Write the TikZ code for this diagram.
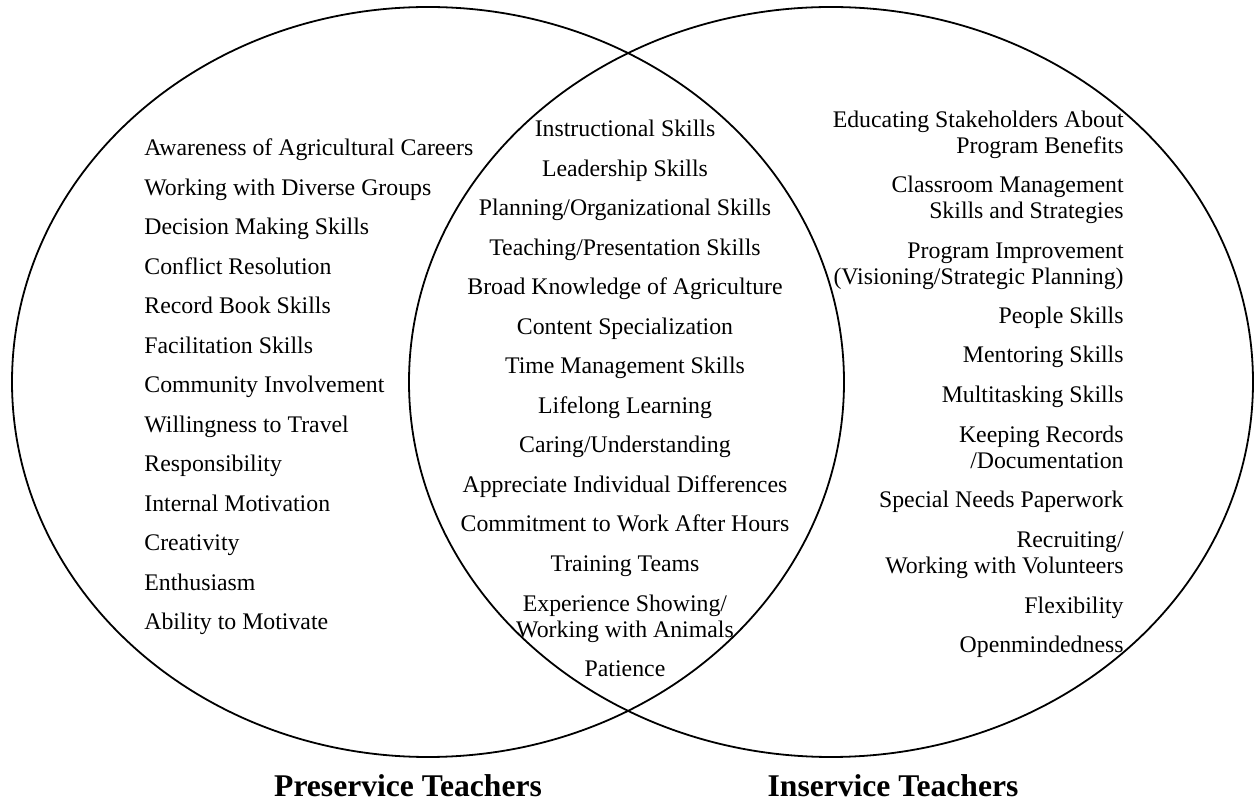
\documentclass[tikz,border=0pt]{standalone}
\usepackage{fontspec}
\setmainfont{Liberation Serif}
\usetikzlibrary{positioning}

\tikzset{
  item/.style={inner sep=0pt, font=\fontsize{11.9}{13.25}\selectfont},
  pre/.style={item, anchor=base west},
  both/.style={item, anchor=base, align=center},
  ins/.style={item, anchor=base east, align=right},
  group/.style={inner sep=0pt, anchor=base, font=\fontsize{15.8}{18}\selectfont\bfseries},
  ring/.style={line width=0.9pt}
}

\begin{document}
\begin{tikzpicture}[x=0.5pt, y=-0.5pt]
\useasboundingbox (0,0) rectangle (1254,801);
% the two sets
\draw[ring] (428,382) ellipse [x radius=416, y radius=375];
\draw[ring] (831,382) ellipse [x radius=422, y radius=375];

% preservice only
\node[pre] (p1) at (144,156) {Awareness of Agricultural Careers};
\node[pre] (p2) at (144,195.5) {Working with Diverse Groups};
\node[pre] (p3) at (144,235) {Decision Making Skills};
\node[pre] (p4) at (144,274.5) {Conflict Resolution};
\node[pre] (p5) at (144,314) {Record Book Skills};
\node[pre] (p6) at (144,353.5) {Facilitation Skills};
\node[pre] (p7) at (144,393) {Community Involvement};
\node[pre] (p8) at (144,432.5) {Willingness to Travel};
\node[pre] (p9) at (144,472) {Responsibility};
\node[pre] (p10) at (144,511.5) {Internal Motivation};
\node[pre] (p11) at (144,551) {Creativity};
\node[pre] (p12) at (144,590.5) {Enthusiasm};
\node[pre] (p13) at (144,630) {Ability to Motivate};

% shared (two-line nodes sit on their last line)
\node[both] (b1) at (625,137) {Instructional Skills};
\node[both] (b2) at (625,176.5) {Leadership Skills};
\node[both] (b3) at (625,216) {Planning/Organizational Skills};
\node[both] (b4) at (625,255.5) {Teaching/Presentation Skills};
\node[both] (b5) at (625,295) {Broad Knowledge of Agriculture};
\node[both] (b6) at (625,334.5) {Content Specialization};
\node[both] (b7) at (625,374) {Time Management Skills};
\node[both] (b8) at (625,413.5) {Lifelong Learning};
\node[both] (b9) at (625,453) {Caring/Understanding};
\node[both] (b10) at (625,492.5) {Appreciate Individual Differences};
\node[both] (b11) at (625,532) {Commitment to Work After Hours};
\node[both] (b12) at (625,571.5) {Training Teams};
\node[both] (b13) at (625,638) {Experience Showing/\\Working with Animals};
\node[both] (b14) at (625,677) {Patience};

% inservice only
\node[ins] (i1) at (1124,154) {Educating Stakeholders About\\Program Benefits};
\node[ins] (i2) at (1124,219) {Classroom Management\\Skills and Strategies};
\node[ins] (i3) at (1124,285) {Program Improvement\\(Visioning/Strategic Planning)};
\node[ins] (i4) at (1124,324) {People Skills};
\node[ins] (i5) at (1124,363) {Mentoring Skills};
\node[ins] (i6) at (1124,403) {Multitasking Skills};
\node[ins] (i7) at (1124,469) {Keeping Records\\/Documentation};
\node[ins] (i8) at (1124,508) {Special Needs Paperwork};
\node[ins] (i9) at (1124,574) {Recruiting/\\Working with Volunteers};
\node[ins] (i10) at (1124,614) {Flexibility};
\node[ins] (i11) at (1124,653) {Openmindedness};

% set names
\node[group] (gpre) at (408,797) {Preservice Teachers};
\node[group] (gins) at (893,797) {Inservice Teachers};
\end{tikzpicture}
\end{document}
